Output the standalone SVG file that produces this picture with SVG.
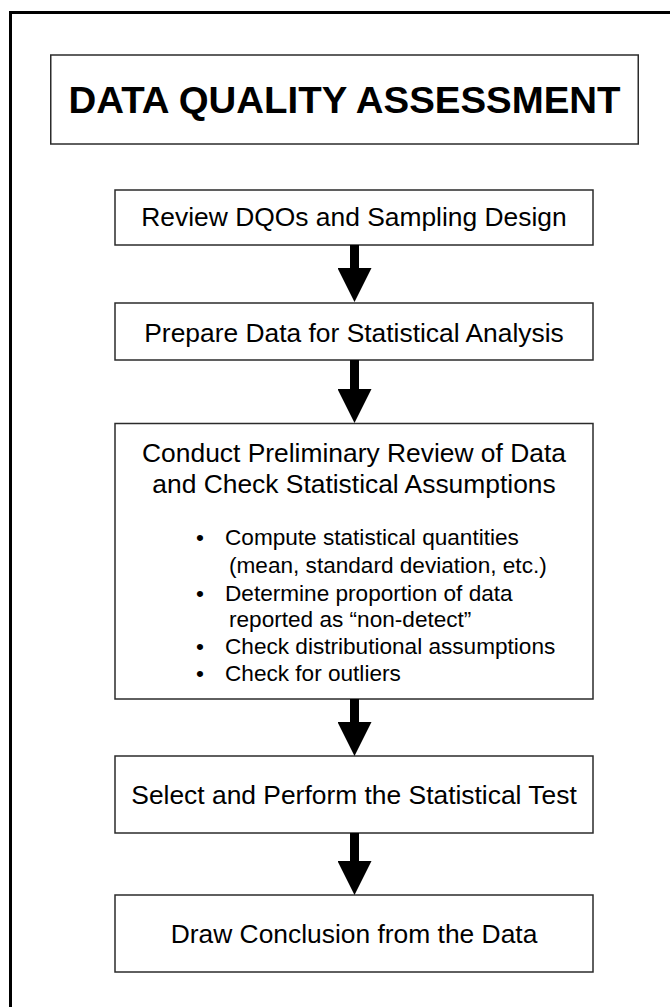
<svg xmlns="http://www.w3.org/2000/svg" width="670" height="1007" viewBox="0 0 670 1007">
  <style>
    .box { fill: #ffffff; stroke: #2b2b2b; stroke-width: 1.5; }
    .frame { fill: none; stroke: #000000; stroke-width: 3; }
    .title { font-family: "Liberation Sans", Arial, sans-serif; font-weight: bold; font-size: 37px; fill: #000; text-anchor: middle; }
    .label { font-family: "Liberation Sans", Arial, sans-serif; font-size: 26.4px; fill: #000; text-anchor: middle; }
    .item { font-family: "Liberation Sans", Arial, sans-serif; font-size: 22.6px; fill: #000; }
    .shaft { stroke: #000; stroke-width: 9; fill: none; marker-end: url(#head); }
  </style>
  <defs>
    <marker id="head" viewBox="0 0 34 34" refX="0" refY="17" markerWidth="34" markerHeight="34" markerUnits="userSpaceOnUse" orient="auto">
      <path d="M0,0 L34,17 L0,34 Z" fill="#000"/>
    </marker>
  </defs>

  <rect width="670" height="1007" fill="#ffffff"/>

  <!-- page frame: left and top edges only -->
  <path class="frame" d="M10.5,1007 V12.5 H670"/>

  <g id="title">
    <rect class="box" x="50.75" y="55" width="587.5" height="89"/>
    <text class="title" x="344.5" y="112.7" textLength="552" lengthAdjust="spacingAndGlyphs">DATA QUALITY ASSESSMENT</text>
  </g>

  <g id="review">
    <rect class="box" x="115" y="190" width="478" height="55"/>
    <text class="label" x="354" y="226">Review DQOs and Sampling Design</text>
  </g>

  <g id="prepare">
    <rect class="box" x="115" y="303" width="478" height="57"/>
    <text class="label" x="354" y="341.5">Prepare Data for Statistical Analysis</text>
  </g>

  <g id="preliminary">
    <rect class="box" x="115" y="423.5" width="478" height="275.5"/>
    <text class="label" x="354" y="461.7">Conduct Preliminary Review of Data</text>
    <text class="label" x="354" y="492.7">and Check Statistical Assumptions</text>
    <text class="item" x="196" y="545">•</text>
    <text class="item" x="225" y="545">Compute statistical quantities</text>
    <text class="item" x="229" y="572.5">(mean, standard deviation, etc.)</text>
    <text class="item" x="196" y="600.5">•</text>
    <text class="item" x="225" y="600.5">Determine proportion of data</text>
    <text class="item" x="229" y="627">reported as “non-detect”</text>
    <text class="item" x="196" y="654">•</text>
    <text class="item" x="225" y="654">Check distributional assumptions</text>
    <text class="item" x="196" y="681">•</text>
    <text class="item" x="225" y="681">Check for outliers</text>
  </g>

  <g id="select">
    <rect class="box" x="115" y="756" width="478" height="77"/>
    <text class="label" x="354" y="804">Select and Perform the Statistical Test</text>
  </g>

  <g id="conclude">
    <rect class="box" x="115" y="895" width="478" height="77"/>
    <text class="label" x="354" y="942.8">Draw Conclusion from the Data</text>
  </g>

  <g id="connectors">
    <line class="shaft" x1="354.5" y1="245" x2="354.5" y2="268"/>
    <line class="shaft" x1="354.5" y1="360" x2="354.5" y2="389"/>
    <line class="shaft" x1="354.5" y1="699" x2="354.5" y2="722"/>
    <line class="shaft" x1="354.5" y1="833" x2="354.5" y2="861"/>
  </g>
</svg>
